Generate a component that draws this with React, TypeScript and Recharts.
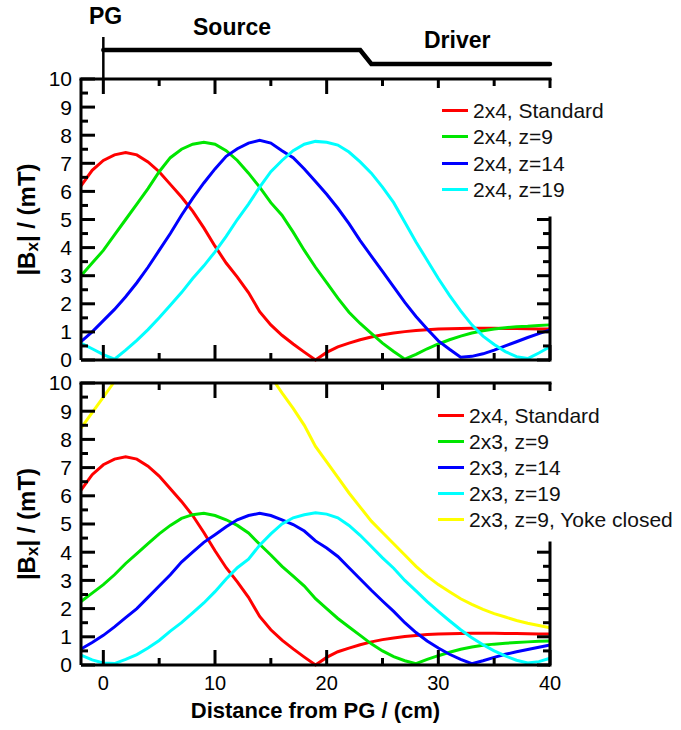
import React from 'react';
import { LineChart, Line, XAxis, YAxis, Legend, ReferenceLine } from 'recharts';

const W = 681;
const FONT = '"Liberation Sans", Arial, Helvetica, sans-serif';

// ---------- data ----------
const xValues = [-2, -1, 0, 1, 2, 3, 4, 5, 6, 7, 8, 9, 10, 11, 12, 13, 14, 15, 16, 17, 18, 19, 20,
  21, 22, 23, 24, 25, 26, 27, 28, 29, 30, 31, 32, 33, 34, 35, 36, 37, 38, 39, 40];

const standard2x4 = [6.2, 6.75, 7.1, 7.3, 7.38, 7.3, 7.05, 6.7, 6.25, 5.8, 5.3, 4.7, 4.05, 3.45, 2.95, 2.4, 1.72, 1.25, 0.88, 0.57, 0.28, 0.0, 0.27,
  0.47, 0.6, 0.72, 0.82, 0.9, 0.96, 1.01, 1.05, 1.08, 1.1, 1.11, 1.12, 1.13, 1.13, 1.13, 1.12, 1.12, 1.11, 1.1, 1.1];

const top2x4z9 = [3.0, 3.45, 3.9, 4.45, 5.0, 5.55, 6.1, 6.7, 7.2, 7.5, 7.68, 7.75, 7.68, 7.45, 7.1, 6.65, 6.15, 5.6, 5.15, 4.55, 3.9, 3.3, 2.75,
  2.2, 1.7, 1.3, 0.95, 0.6, 0.3, 0.03, 0.2, 0.4, 0.57, 0.72, 0.85, 0.96, 1.04, 1.1, 1.15, 1.18, 1.2, 1.23, 1.25];

const top2x4z14 = [0.65, 1.0, 1.4, 1.8, 2.25, 2.75, 3.3, 3.9, 4.5, 5.15, 5.75, 6.3, 6.8, 7.25, 7.52, 7.72, 7.82, 7.72, 7.45, 7.2, 6.8, 6.35, 5.9,
  5.4, 4.85, 4.25, 3.7, 3.15, 2.6, 2.05, 1.55, 1.1, 0.68, 0.38, 0.1, 0.13, 0.22, 0.35, 0.5, 0.65, 0.8, 0.94, 1.07];

const top2x4z19 = [0.6, 0.4, 0.19, 0.03, 0.35, 0.7, 1.08, 1.5, 1.95, 2.4, 2.9, 3.35, 3.85, 4.4, 5.0, 5.55, 6.15, 6.7, 7.1, 7.45, 7.68, 7.78, 7.75,
  7.65, 7.4, 7.05, 6.65, 6.15, 5.6, 4.9, 4.2, 3.55, 2.9, 2.3, 1.75, 1.25, 0.85, 0.55, 0.3, 0.12, 0.05, 0.25, 0.47];

const bot2x3z9 = [2.25, 2.55, 2.85, 3.2, 3.6, 3.95, 4.3, 4.65, 4.95, 5.2, 5.33, 5.38, 5.3, 5.15, 4.95, 4.68, 4.28, 3.9, 3.5, 3.15, 2.8, 2.35, 2.0,
  1.65, 1.35, 1.05, 0.75, 0.5, 0.3, 0.15, 0.05, 0.2, 0.33, 0.45, 0.56, 0.64, 0.7, 0.74, 0.77, 0.8, 0.82, 0.84, 0.85];

const bot2x3z14 = [0.57, 0.8, 1.05, 1.35, 1.68, 2.0, 2.4, 2.8, 3.2, 3.65, 4.0, 4.35, 4.62, 4.9, 5.15, 5.3, 5.38, 5.3, 5.15, 4.98, 4.75, 4.4, 4.15,
  3.85, 3.45, 3.05, 2.65, 2.27, 1.9, 1.5, 1.15, 0.85, 0.6, 0.38, 0.2, 0.05, 0.15, 0.27, 0.38, 0.47, 0.55, 0.63, 0.71];

const bot2x3z19 = [0.35, 0.18, 0.07, 0.05, 0.2, 0.37, 0.6, 0.87, 1.2, 1.5, 1.85, 2.2, 2.6, 3.05, 3.45, 3.75, 4.25, 4.65, 5.0, 5.22, 5.33, 5.4, 5.35,
  5.22, 4.95, 4.6, 4.2, 3.8, 3.43, 3.0, 2.63, 2.25, 1.9, 1.57, 1.25, 0.97, 0.72, 0.5, 0.32, 0.17, 0.07, 0.12, 0.24];

// yoke-closed curve leaves the plotted range (above 10 mT) between x≈0.9 and x≈15.4
const yokeX = [-2, -1, 0, 0.9, 8, 15.4, 16, 17, 18, 19, 20, 21, 22, 23, 24, 25, 26, 27, 28, 29, 30, 31, 32, 33, 34, 35, 36, 37, 38, 39, 40];
const yokeY: (number | null)[] = [8.4, 8.95, 9.5, 10, null, 10, 9.65, 9.1, 8.5, 7.75, 7.2, 6.65, 6.1, 5.6, 5.1, 4.7, 4.3, 3.9, 3.5,
  3.15, 2.85, 2.6, 2.35, 2.15, 1.97, 1.82, 1.7, 1.58, 1.48, 1.4, 1.32];

// schematic (PG / Source / Driver)
const stepX = [0, 23, 24, 40];
const stepY = [1, 1, 0, 0];

const X_MAJOR = [0, 10, 20, 30, 40];
const X_MINOR = [5, 15, 25, 35];
const Y_MAJOR = [0, 1, 2, 3, 4, 5, 6, 7, 8, 9, 10];
const Y_MINOR = [0.5, 1.5, 2.5, 3.5, 4.5, 5.5, 6.5, 7.5, 8.5, 9.5];

const topData = xValues.map((x, i) => ({
  x, red: standard2x4[i], green: top2x4z9[i], blue: top2x4z14[i], cyan: top2x4z19[i],
}));
const botData = xValues.map((x, i) => ({
  x, red: standard2x4[i], green: bot2x3z9[i], blue: bot2x3z14[i], cyan: bot2x3z19[i],
}));
const yokeData = yokeX.map((x, i) => ({ x, yellow: yokeY[i] }));
const stepData = stepX.map((x, i) => ({ x, y: stepY[i] }));

const topSeries = [
  { key: 'red', name: '2x4, Standard', color: '#ff0000' },
  { key: 'green', name: '2x4, z=9', color: '#00e600' },
  { key: 'blue', name: '2x4, z=14', color: '#0000ff' },
  { key: 'cyan', name: '2x4, z=19', color: '#00ffff' },
];
const botSeries = [
  { key: 'red', name: '2x4, Standard', color: '#ff0000' },
  { key: 'green', name: '2x3, z=9', color: '#00e600' },
  { key: 'blue', name: '2x3, z=14', color: '#0000ff' },
  { key: 'cyan', name: '2x3, z=19', color: '#00ffff' },
  { key: 'yellow', name: '2x3, z=9, Yoke closed', color: '#ffff00', data: yokeData },
];

// ---------- layout ----------
const X0 = -2, X1 = 40, Y0 = 0, Y1 = 10;
const PLOT_L = 81, PLOT_R = 550;
const TOP_PANEL = { top: 79, bottom: 360, legTop: 88, legBottom: 218, legLeft: 436 };
const BOT_PANEL = { top: 383, bottom: 665, legTop: 391, legBottom: 543, legLeft: 441 };

const stroke3 = { stroke: '#000', strokeWidth: 3 };
const noLabel = () => <g />;

// frame + inward ticks (same linear mapping as the chart's plot box)
function FrameTicks({ p }: { p: typeof TOP_PANEL }) {
  const sx = (x: number) => PLOT_L + ((x - X0) / (X1 - X0)) * (PLOT_R - PLOT_L);
  const sy = (v: number) => p.bottom - ((v - Y0) / (Y1 - Y0)) * (p.bottom - p.top);
  const lines: React.ReactNode[] = [];
  const L = (k: string, x1: number, y1: number, x2: number, y2: number, cap = 'butt') =>
    lines.push(<line key={k} x1={x1} y1={y1} x2={x2} y2={y2} stroke="#000" strokeWidth={3} strokeLinecap={cap as any} />);
  L('top', PLOT_L, p.top, PLOT_R, p.top, 'square');
  L('right', PLOT_R, p.legBottom, PLOT_R, p.bottom, 'square');
  const xt = (x: number, len: number, k: string) => {
    const px = sx(x);
    L(`b${k}`, px, p.bottom, px, p.bottom - len);
    const topLen = px >= p.legLeft ? Math.min(len, p.legTop - p.top) : len;
    L(`t${k}`, px, p.top, px, p.top + topLen);
  };
  X_MAJOR.forEach((x) => xt(x, 15, `M${x}`));
  X_MINOR.forEach((x) => xt(x, 7, `m${x}`));
  const yt = (v: number, lenL: number, lenR: number, k: string) => {
    const py = sy(v);
    L(`l${k}`, PLOT_L, py, PLOT_L + lenL, py);
    if (py >= p.legBottom - 1) L(`r${k}`, PLOT_R, py, PLOT_R - lenR, py);
  };
  Y_MAJOR.forEach((v) => yt(v, 14, 13, `M${v}`));
  Y_MINOR.forEach((v) => yt(v, 7, 7, `m${v}`));
  return <g>{lines}</g>;
}

function makeLegend(order: string[], rowH: number, padTop: number, padBottom: number, padLeft: number) {
  return (props: any) => {
    const items = [...(props.payload || [])]
      .filter((p: any) => order.includes(String(p.value)))
      .sort((a: any, b: any) => order.indexOf(String(a.value)) - order.indexOf(String(b.value)));
    return (
      <div style={{ background: '#fff', paddingTop: padTop, paddingBottom: padBottom, paddingLeft: padLeft }}>
        {items.map((p: any) => (
          <div key={String(p.value)} style={{ display: 'flex', alignItems: 'center', height: rowH }}>
            <div style={{ width: 26, height: 3, background: p.color, marginRight: 5, flex: 'none' }} />
            <span style={{ fontSize: 21, fontFamily: FONT, color: '#111', whiteSpace: 'nowrap', lineHeight: 1 }}>{p.value}</span>
          </div>
        ))}
      </div>
    );
  };
}

function Panel(props: {
  data: any[]; series: { key: string; name: string; color: string; data?: any[] }[]; top: number; height: number;
  margin: { top: number; right: number; bottom: number; left: number }; showX: boolean;
  legendPos: { left: number; top: number }; rowH: number; padTop: number; padBottom: number; padLeft: number;
}) {
  const { data, series, top, height, margin, showX, legendPos, rowH, padTop, padBottom, padLeft } = props;
  return (
    <div style={{ position: 'absolute', left: 0, top }}>
      <LineChart width={W} height={height} data={data} margin={margin}>
        <XAxis xAxisId="main" type="number" dataKey="x" domain={[X0, X1]} height={1} interval={0} ticks={X_MAJOR}
          axisLine={stroke3} tickLine={false} tickSize={0} tickMargin={11}
          tick={showX ? { fontSize: 20, fill: '#000', fontFamily: FONT } : noLabel} />
        <YAxis yAxisId="main" type="number" domain={[Y0, Y1]} width={1} interval={0} ticks={Y_MAJOR}
          axisLine={stroke3} tickLine={false} tickSize={0} tickMargin={9}
          tick={{ fontSize: 21, fill: '#000', fontFamily: FONT }} />
        {series.map((s) => (
          <Line key={s.key} xAxisId="main" yAxisId="main" data={s.data} dataKey={s.key} name={s.name} type="linear"
            stroke={s.color} strokeWidth={3} dot={false} activeDot={false} isAnimationActive={false} connectNulls={false} />
        ))}
        <Legend layout="vertical" align="center" verticalAlign="middle"
          wrapperStyle={{ left: legendPos.left, top: legendPos.top, width: 240, margin: 0, padding: 0 }}
          content={makeLegend(series.map((s) => s.name), rowH, padTop, padBottom, padLeft)} />
      </LineChart>
    </div>
  );
}

function YTitle({ cx, cy }: { cx: number; cy: number }) {
  return (
    <text x={cx} y={cy} transform={`rotate(-90 ${cx} ${cy})`} textAnchor="middle" dominantBaseline="central"
      fontFamily={FONT} fontWeight="bold" fontSize={24} fill="#000">
      |B<tspan dy={6} fontSize={17}>x</tspan><tspan dy={-6}>| / (mT)</tspan>
    </text>
  );
}

export default function App() {
  return (
    <div style={{ position: 'absolute', left: 0, top: 0, width: W, height: 730, background: '#fff', overflow: 'hidden' }}>
      {/* schematic */}
      <div style={{ position: 'absolute', left: 0, top: 0 }}>
        <LineChart width={W} height={80} data={stepData} margin={{ top: 50, right: 131, bottom: 16, left: 81 }}>
          <XAxis type="number" dataKey="x" domain={[-2, 40]} hide />
          <YAxis type="number" domain={[0, 1]} hide />
          <ReferenceLine segment={[{ x: 0, y: 1.93 }, { x: 0, y: -1.15 }]} ifOverflow="visible" stroke="#000" strokeWidth={2.5} />
          <Line dataKey="y" type="linear" stroke="#000" strokeWidth={4.5} dot={false} activeDot={false}
            strokeLinecap="round" isAnimationActive={false} />
        </LineChart>
      </div>

      <Panel data={topData} series={topSeries} top={0} height={380}
        margin={{ top: 79, right: 131, bottom: 19, left: 80 }} showX={false}
        legendPos={{ left: 436, top: 88 }} rowH={26.67} padTop={8.7} padBottom={14} padLeft={6} />

      <Panel data={botData} series={botSeries} top={370} height={360}
        margin={{ top: 13, right: 131, bottom: 64, left: 80 }} showX={true}
        legendPos={{ left: 436, top: 21 }} rowH={26} padTop={11} padBottom={11} padLeft={2} />

      <svg width={W} height={730} style={{ position: 'absolute', left: 0, top: 0, pointerEvents: 'none' }}>
        <FrameTicks p={TOP_PANEL} />
        <FrameTicks p={BOT_PANEL} />
        <text x={89} y={24} fontFamily={FONT} fontWeight="bold" fontSize={23} fill="#000">PG</text>
        <text x={193} y={35} fontFamily={FONT} fontWeight="bold" fontSize={23} fill="#000">Source</text>
        <text x={424} y={48} fontFamily={FONT} fontWeight="bold" fontSize={23} fill="#000">Driver</text>
        <YTitle cx={26} cy={219.5} />
        <YTitle cx={26} cy={524} />
        <text x={315.5} y={718} textAnchor="middle" fontFamily={FONT} fontWeight="bold" fontSize={22} fill="#000">
          Distance from PG / (cm)
        </text>
      </svg>
    </div>
  );
}
